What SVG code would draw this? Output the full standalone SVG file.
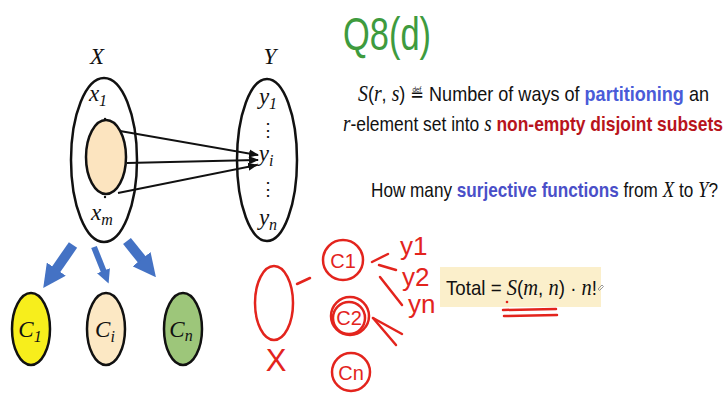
<svg xmlns="http://www.w3.org/2000/svg" width="726" height="394" viewBox="0 0 726 394">
<defs>
<style>
.math{font-family:"Liberation Serif","DejaVu Serif",serif;font-style:italic;font-size:23px;}
.body{font-family:"Liberation Sans","Open Sans",sans-serif;font-size:21px;fill:#111;}
.lab{font-family:"Liberation Serif","DejaVu Serif",serif;font-style:italic;font-size:23px;fill:#111;text-anchor:middle;}
.sub{font-size:16px;}
.set{fill:none;stroke:#111;stroke-width:2.5;}
.node{stroke:#111;stroke-width:2.5;}
.map{stroke:#111;stroke-width:2;fill:none;marker-end:url(#ah);}
.blue{stroke:#4472C4;fill:none;marker-end:url(#bh);}
.red{stroke:#E3241D;stroke-width:2.5;fill:none;stroke-linecap:round;stroke-linejoin:round;}
.redt{fill:#E3241D;font-family:"Liberation Sans",sans-serif;}
</style>
<marker id="ah" viewBox="0 0 10 10" refX="9" refY="5" markerWidth="10" markerHeight="10" markerUnits="userSpaceOnUse" orient="auto">
<path d="M0,1 L10,5 L0,9 z" fill="#111"/>
</marker>
<marker id="bh" viewBox="0 0 10 10" refX="1" refY="5" markerWidth="2.3" markerHeight="2.3" orient="auto">
<path d="M0,0 L10,5 L0,10 z" fill="#4472C4"/>
</marker>
</defs>
<rect width="726" height="394" fill="#fff"/>

<g id="setX">
<ellipse class="set" cx="104" cy="160" rx="33" ry="82"/>
<text class="lab" x="97" y="64">X</text>
<text class="lab" x="98" y="101">x<tspan class="sub" dy="5">1</tspan></text>
<ellipse cx="106" cy="157" rx="20" ry="37" fill="#FCE4BF" stroke="#111" stroke-width="2.5"/>
<circle cx="105" cy="119" r="1.2" fill="#111"/>
<circle cx="105" cy="197" r="1.2" fill="#111"/>
<text class="lab" x="102" y="220">x<tspan class="sub" dy="5">m</tspan></text>
</g>

<g id="setY">
<ellipse class="set" cx="267" cy="160" rx="30" ry="81"/>
<text class="lab" x="270" y="64">Y</text>
<text class="lab" x="268" y="104">y<tspan class="sub" dy="5">1</tspan></text>
<text class="lab" x="268" y="136" style="font-style:normal;font-size:18px">⋮</text>
<text class="lab" x="266" y="161">y<tspan class="sub" dy="5">i</tspan></text>
<text class="lab" x="268" y="195" style="font-style:normal;font-size:18px">⋮</text>
<text class="lab" x="268" y="225">y<tspan class="sub" dy="5">n</tspan></text>
</g>

<g id="C1">
<ellipse class="node" cx="31" cy="329" rx="19" ry="36" fill="#F7EE1C"/>
<text class="lab" x="30" y="337" font-size="25">C<tspan class="sub" dy="5">1</tspan></text>
</g>
<g id="Ci">
<ellipse class="node" cx="106" cy="329" rx="19" ry="36" fill="#FCE8C4"/>
<text class="lab" x="105" y="337" font-size="25">C<tspan class="sub" dy="5">i</tspan></text>
</g>
<g id="Cn">
<ellipse class="node" cx="183" cy="329" rx="19" ry="36" fill="#9DC67A"/>
<text class="lab" x="181" y="337" font-size="25">C<tspan class="sub" dy="4">n</tspan></text>
</g>

<g id="connectors">
<path class="map" d="M120,131 L258,155"/>
<path class="map" d="M127,163 L258,160"/>
<path class="map" d="M118,193 L257,165"/>
<path class="blue" stroke-width="10" d="M73,245 L55,271"/>
<path class="blue" stroke-width="6" d="M94,247 L104,272"/>
<path class="blue" stroke-width="10" d="M127,241 L143,261"/>
</g>

<g id="title">
<text x="343" y="50" font-family="Liberation Sans, Open Sans, sans-serif" font-size="47" fill="#3E9B3E" textLength="88" lengthAdjust="spacingAndGlyphs">Q8(d)</text>
</g>

<g id="definition">
<text class="body" x="358" y="101" textLength="351" lengthAdjust="spacingAndGlyphs"><tspan class="math">S</tspan>(<tspan class="math">r</tspan>, <tspan class="math">s</tspan>) <tspan font-family="DejaVu Sans, sans-serif" font-size="19">≝</tspan> Number of ways of <tspan fill="#4A5BD8" font-weight="bold">partitioning</tspan> an</text>
<text class="body" x="343" y="131" textLength="380" lengthAdjust="spacingAndGlyphs"><tspan class="math">r</tspan>-element set into <tspan class="math">s</tspan> <tspan fill="#B8141C" font-weight="bold">non-empty disjoint subsets</tspan></text>
<text class="body" x="371" y="197" textLength="347" lengthAdjust="spacingAndGlyphs">How many <tspan fill="#4A4FC8" font-weight="bold">surjective functions</tspan> from <tspan class="math">X</tspan> to <tspan class="math">Y</tspan>?</text>
</g>

<g id="total">
<rect x="440" y="267" width="161" height="40" fill="#FBEFCB"/>
<text class="body" x="446" y="295" textLength="151" lengthAdjust="spacingAndGlyphs">Total = <tspan class="math">S</tspan>(<tspan class="math">m</tspan>, <tspan class="math">n</tspan>) · <tspan class="math">n</tspan>!</text>
<path d="M598,289 l4,-4 l1.5,1.5 l-4,4 z" fill="none" stroke="#999" stroke-width="1"/>
</g>

<g id="handwriting">
<ellipse class="red" cx="274" cy="303" rx="19" ry="37"/>
<text class="redt" x="276" y="371" font-size="31" text-anchor="middle">X</text>
<path class="red" d="M297,284 L310,278"/>
<circle class="red" cx="343" cy="260" r="20"/>
<text class="redt" x="343" y="268" font-size="20" text-anchor="middle">C1</text>
<circle class="red" cx="350" cy="316" r="19"/>
<circle class="red" cx="349" cy="318" r="16"/>
<text class="redt" x="349" y="325" font-size="20" text-anchor="middle">C2</text>
<circle class="red" cx="351" cy="372" r="19"/>
<text class="redt" x="351" y="380" font-size="20" text-anchor="middle">Cn</text>
<text class="redt" x="400" y="255" font-size="26">y1</text>
<text class="redt" x="402" y="286" font-size="26">y2</text>
<text class="redt" x="408" y="313" font-size="26">yn</text>
<path class="red" d="M372,262 L388,254"/>
<path class="red" d="M379,265 L396,270"/>
<path class="red" d="M380,277 L402,305"/>
<path class="red" d="M373,318 L402,334"/>
<path class="red" d="M373,318 L396,345"/>
<path class="red" d="M503,310 L556,309"/>
<path class="red" d="M504,316 L557,315"/>
<circle cx="507" cy="302" r="1.3" fill="#E3241D"/>
</g>
</svg>
